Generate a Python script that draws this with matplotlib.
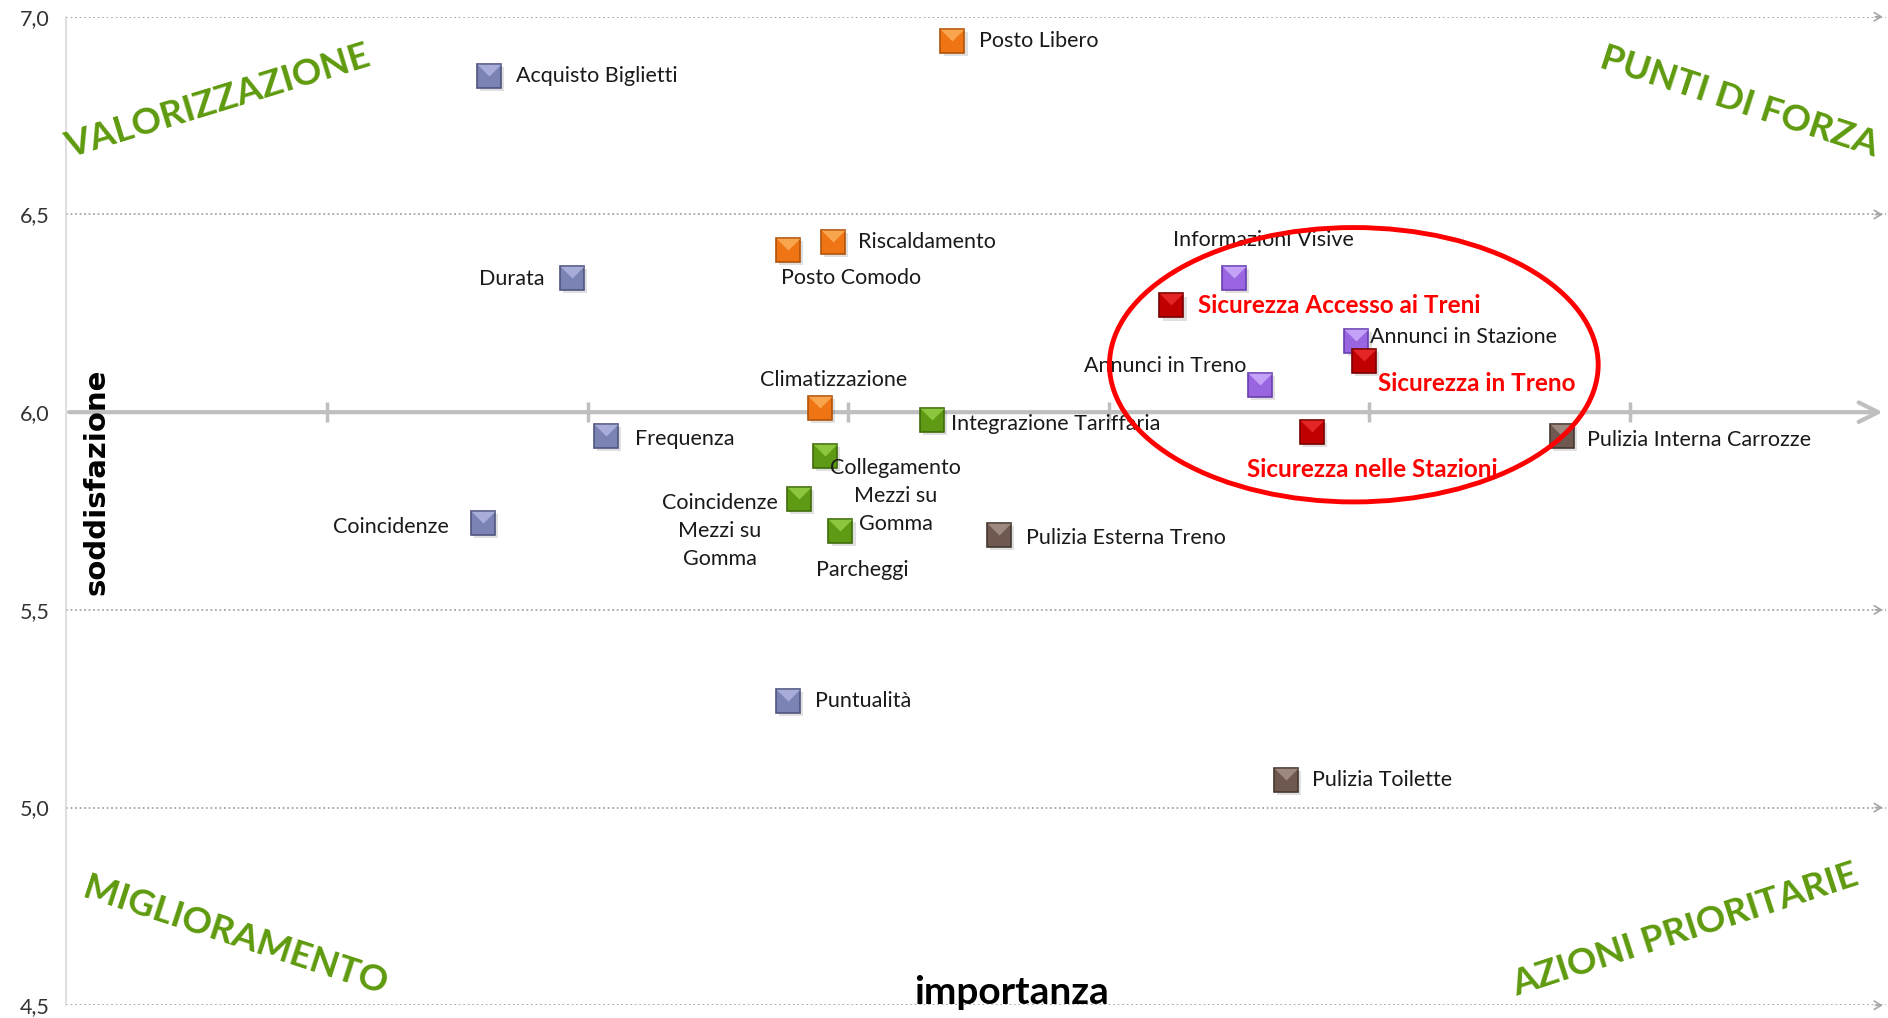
import matplotlib
matplotlib.use("Agg")
import matplotlib.pyplot as plt
from matplotlib.patches import Ellipse
from matplotlib.ticker import FuncFormatter

# --- data ---
voci = ["Acquisto Biglietti", "Posto Libero", "Riscaldamento", "Posto Comodo",
        "Durata", "Informazioni Visive", "Sicurezza Accesso ai Treni",
        "Annunci in Stazione", "Sicurezza in Treno", "Annunci in Treno",
        "Climatizzazione", "Integrazione Tariffaria", "Frequenza",
        "Sicurezza nelle Stazioni", "Pulizia Interna Carrozze",
        "Collegamento\nMezzi su\nGomma", "Coincidenze\nMezzi su\nGomma",
        "Coincidenze", "Parcheggi", "Pulizia Esterna Treno", "Puntualità",
        "Pulizia Toilette"]
importanza = [1.62, 3.40, 2.94, 2.77, 1.94, 4.48, 4.24, 4.95, 4.98, 4.58,
              2.89, 3.32, 2.07, 4.78, 5.74, 2.91, 2.81, 1.60, 2.97, 3.58,
              2.77, 4.68]
soddisfazione = [6.85, 6.94, 6.43, 6.41, 6.34, 6.34, 6.27, 6.18, 6.13, 6.07,
                 6.01, 5.98, 5.94, 5.95, 5.94, 5.89, 5.78, 5.72, 5.70, 5.69,
                 5.27, 5.07]
gruppo = ["viaggio", "comfort", "comfort", "comfort", "viaggio", "info",
          "sicurezza", "info", "sicurezza", "info", "comfort", "intermod",
          "viaggio", "sicurezza", "pulizia", "intermod", "intermod",
          "viaggio", "intermod", "pulizia", "viaggio", "pulizia"]
y_ticks = [4.5, 5.0, 5.5, 6.0, 6.5, 7.0]
x_ticks = [1, 2, 3, 4, 5, 6]
quadranti = ["VALORIZZAZIONE", "PUNTI DI FORZA", "MIGLIORAMENTO",
             "AZIONI PRIORITARIE"]

# --- styling ---
# face, light bevel, edge
COL = {
    "viaggio": ("#7B82B4", "#A7ADD8", "#50557E"),
    "comfort": ("#EE7414", "#F9A54E", "#B0540A"),
    "intermod": ("#5E9A14", "#8CC63F", "#3F6B0C"),
    "info": ("#9965E0", "#C3A2F7", "#6B3FAF"),
    "sicurezza": ("#C00000", "#E42525", "#780000"),
    "pulizia": ("#6E5850", "#9E8980", "#463731"),
}
# label offsets in points (dx, dy) and alignment
lab_off = [(20, 0, "left"), (19, 0, "left"), (18, 0, "left"),
           (45, -20, "center"), (-20, -1, "right"), (21, 27, "center"),
           (19, 0, "left"), (10, 3, "left"), (10, -16, "left"),
           (-10, 13, "right"), (10, 20, "center"), (14, -3, "left"),
           (21, -2, "left"), (43, -27, "center"), (18, -3, "left"),
           (51, -29, "center"), (-57, -23, "center"), (-25, -3, "right"),
           (16, -28, "center"), (19, -2, "left"), (19, 0, "left"),
           (19, 0, "left")]
quad_pos = [(0.58, 6.785, 17), (6.42, 6.785, -18), (0.65, 4.675, -18),
            (6.21, 4.69, 18)]
GREEN = "#5E9A0E"
FONT = "Lato"

fig = plt.figure(figsize=(18.88, 10.18), dpi=100)
ax = fig.add_axes([0.0351, 0.0125, 0.9636, 0.971])
ax.set_xlim(0, 6.98)
ax.set_ylim(4.5, 7.0)

for s in ("top", "right", "bottom"):
    ax.spines[s].set_visible(False)
ax.spines["left"].set_color("#D9D9D9")
ax.spines["left"].set_linewidth(1.2)
ax.set_xticks([])
ax.set_yticks(y_ticks)
ax.yaxis.set_major_formatter(FuncFormatter(lambda v, p: f"{v:.1f}".replace(".", ",")))
ax.tick_params(axis="y", length=0, pad=12, labelsize=15.5, labelcolor="#333333")
for t in ax.get_yticklabels():
    t.set_family(FONT)

# dotted gridlines with small chevrons
for yv in y_ticks:
    if yv == 6.0:
        continue
    ax.axhline(yv, color="#A6A6A6", lw=1.3, ls=(0, (1, 1.5)), zorder=1)
    ax.annotate("", xy=(6.98, yv), xytext=(6.93, yv),
                arrowprops=dict(arrowstyle="->,head_length=0.5,head_width=0.3",
                                color="#A6A6A6", lw=1.2), zorder=1,
                annotation_clip=False)

# main horizontal axis at 6.0
ax.annotate("", xy=(6.98, 6.0), xytext=(0, 6.0),
            arrowprops=dict(arrowstyle="->,head_length=1.4,head_width=0.7",
                            color="#BFBFBF", lw=3), zorder=2,
            annotation_clip=False)
ax.plot(x_ticks, [6.0] * len(x_ticks), ls="none", marker="|", ms=14,
        mew=2.5, color="#BFBFBF", zorder=2)

# points
tri = [(-1, 1), (1, 1), (0, 0), (-1, 1)]
for i, nome in enumerate(voci):
    face, light, edge = COL[gruppo[i]]
    x, y = importanza[i], soddisfazione[i]
    ax.plot(x + 0.012, y - 0.008, marker="s", ms=17, color="#000000",
            alpha=0.12, mew=0, zorder=3)
    ax.plot(x, y, marker="s", ms=17, mfc=face, mec=edge, mew=1.2, zorder=4)
    ax.plot(x, y, marker=tri, ms=17, mfc=light, mec="none", zorder=5)
    dx, dy, ha = lab_off[i]
    rosso = gruppo[i] == "sicurezza"
    ax.annotate(nome, (x, y), xytext=(dx, dy), textcoords="offset points",
                ha=ha, va="center", fontsize=17.5 if rosso else 15.5,
                fontweight="bold" if rosso else "normal",
                color="#FF0000" if rosso else "#1A1A1A", family=FONT,
                linespacing=1.5, zorder=6)

# highlight ellipse
ax.add_patch(Ellipse((4.94, 6.12), 1.875, 0.694, fill=False,
                     edgecolor="#FF0000", lw=3.5, zorder=7))

# quadrant labels
for txt, (qx, qy, rot) in zip(quadranti, quad_pos):
    ax.text(qx, qy, txt, rotation=rot, rotation_mode="anchor", ha="center",
            va="center", fontsize=26.5, fontweight="bold", color=GREEN,
            family=FONT, zorder=6)

fig.text(0.0509, 0.5265, "soddisfazione", rotation=90, ha="center",
         va="center", fontsize=21, fontweight="bold", family="DejaVu Sans")
fig.text(0.5355, 0.0246, "importanza", ha="center", va="center",
         fontsize=28, fontweight="bold", family=FONT)

fig.savefig("out.png", dpi=100)
